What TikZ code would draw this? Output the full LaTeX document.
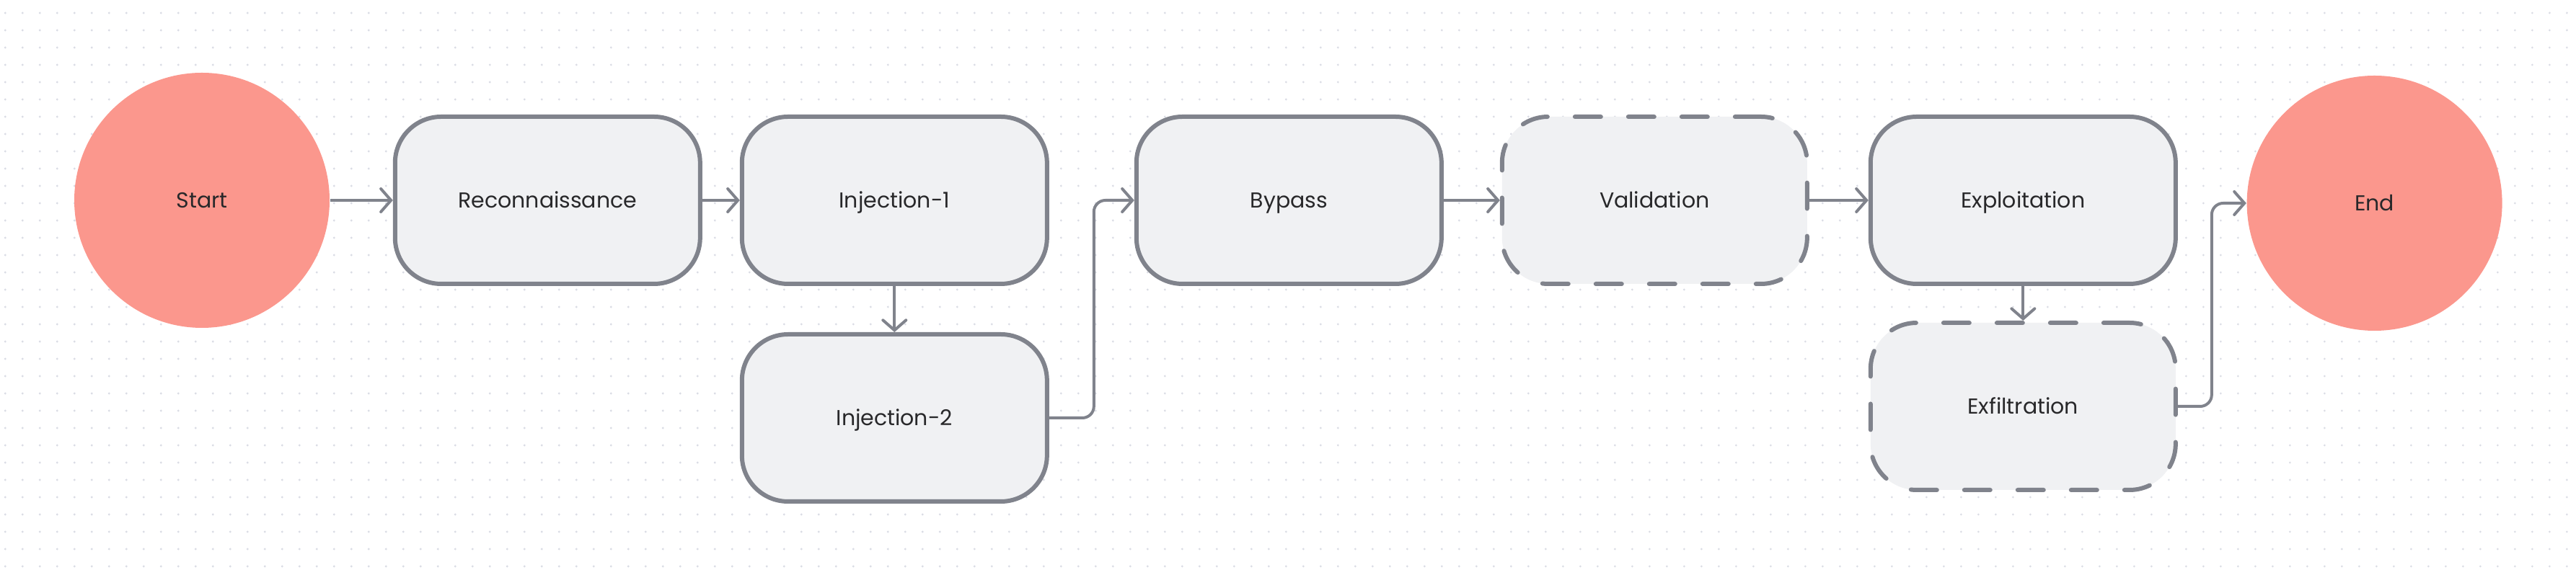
\documentclass[tikz,border=0pt]{standalone}
\usepackage{fontspec}
\setmainfont{Poppins}
\usetikzlibrary{positioning, shapes, arrows.meta}

\definecolor{edgegray}{RGB}{128,131,140}
\definecolor{boxfill}{RGB}{240,241,243}
\definecolor{termfill}{RGB}{251,151,141}
\definecolor{dotgray}{RGB}{218,220,228}
\definecolor{textdark}{RGB}{40,40,42}

\begin{document}
\begin{tikzpicture}[
		every node/.style={text=textdark, font=\fontsize{7.5}{9}\selectfont, text height=6pt, text depth=0.75pt},
		terminal/.style={circle, fill=termfill, minimum size=88.5pt, inner sep=0pt},
		stage/.style={rectangle, rounded corners=16pt, draw=edgegray, line width=1.5pt, fill=boxfill, minimum width=105.75pt, minimum height=58pt},
		optstage/.style={stage, line cap=round, dash pattern=on 9pt off 9.5pt},
		flow/.style={draw=edgegray, line width=1pt, line join=round, -{Straight Barb[length=3.5pt, width=8pt, line cap=round]}}
	]
		\useasboundingbox (0,0) rectangle (893pt,-199.5pt);
		\foreach \i in {0,...,148}
			\foreach \j in {0,...,32}
				\fill[dotgray] (\i*6pt+1.83pt, -\j*6pt-4.5pt) circle (0.4pt);

		\node (start) [terminal] at (70pt,-69.5pt) {Start};
		\node (recon) [stage, right=21.75pt of start] {Reconnaissance};
		\node (injone) [stage, right=13pt of recon] {Injection-1};
		\node (injtwo) [stage, below=16pt of injone] {Injection-2};
		\node (bypass) [stage, right=29.5pt of injone] {Bypass};
		\node (valid) [optstage, right=19.5pt of bypass] {Validation};
		\node (exploit) [stage, right=20.5pt of valid] {Exploitation};
		\node (exfil) [optstage, below=12pt of exploit] {Exfiltration};
		\node (end) [terminal, right=23.75pt of exploit, yshift=-1pt] {End};

		\path[flow] (start) -- (recon);
		\path[flow] (recon) -- (injone);
		\path[flow] (injone) -- (injtwo);
		\path[flow, rounded corners=4pt] (injtwo.east) -- ++(15.5pt,0) |- (bypass.west);
		\path[flow] (bypass) -- (valid);
		\path[flow] (valid) -- (exploit);
		\path[flow] (exploit) -- (exfil);
		\path[flow, rounded corners=4pt] (exfil.east) -- ++(11.75pt,0) |- (end.west);
	\end{tikzpicture}
\end{document}
